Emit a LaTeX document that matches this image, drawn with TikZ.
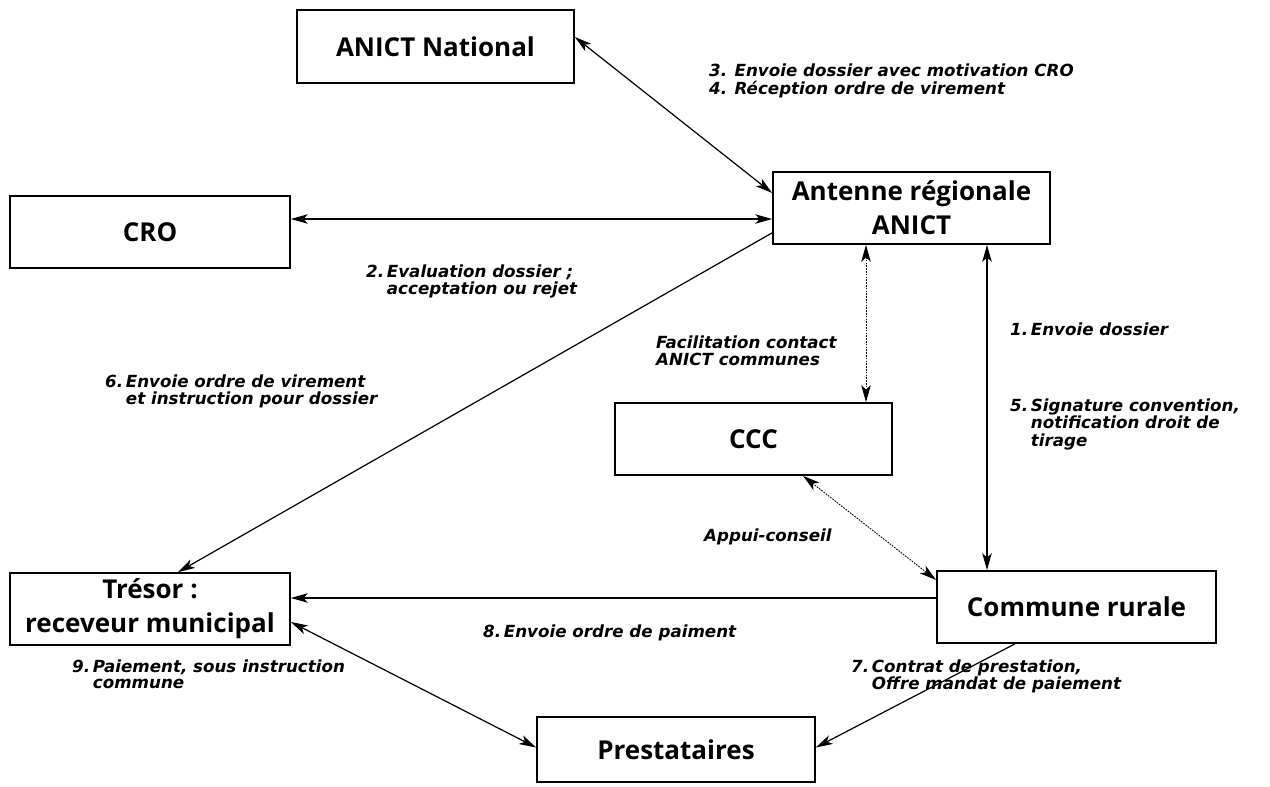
\documentclass[tikz,border=0pt]{standalone}
\usepackage{fontspec}
\setmainfont{Open Sans}
\newfontfamily\lblfamily{DejaVu Sans}
\usetikzlibrary{arrows.meta,calc}
\tikzset{
  tip/.tip={Stealth[length=17pt,width=9.5pt,inset=4.5pt]},
  box/.style={draw, line width=1.7pt, minimum width=278pt, minimum height=72pt, inner sep=0pt, font=\fontsize{26}{30}\selectfont\bfseries, align=center},
  conn/.style={line width=1.2pt, -tip},
  biconn/.style={line width=1.2pt, tip-tip},
  dotconn/.style={biconn, line width=0.9pt, dash pattern=on 1.6pt off 1.2pt},
  lbl/.style={inner sep=0pt, anchor=base west, font=\lblfamily\fontsize{16.7}{16.5}\selectfont\bfseries\itshape}
}
\newcommand{\nl}[3]{\begin{tabular}[t]{@{}l@{\,}l@{}}#1&#2\\&#3\end{tabular}}
\newcommand{\tl}[2]{\begin{tabular}[t]{@{}l@{}}#1\\#2\end{tabular}}
\begin{document}
\begin{tikzpicture}[x=1pt,y=-1pt]
\useasboundingbox (0,0) rectangle (1270,787);
% boxes
\node[box, minimum width=277pt, minimum height=73pt] (nat) at (435.5,46.5) {ANICT National};
\node[box, minimum width=280pt] (cro) at (150,232) {CRO};
\node[box, minimum width=277pt] (ant) at (911.5,208) {Antenne régionale\\[4pt]ANICT};
\node[box, minimum width=277pt] (ccc) at (753.5,439) {CCC};
\node[box, minimum width=280pt] (tre) at (150,609) {Trésor :\\[4pt]receveur municipal};
\node[box, minimum width=279pt] (com) at (1076.5,607) {Commune rurale};
\node[box, minimum width=278pt, minimum height=65pt] (pre) at (676,749.5) {Prestataires};
% connectors
\draw[biconn] ([yshift=9.5pt]nat.east) -- ([yshift=15pt]ant.west);
\draw[biconn] ([yshift=13pt]cro.east) -- ([yshift=13pt]cro.east -| ant.west);
\draw[conn] ([yshift=12pt]ant.south west) -- ([xshift=28pt]tre.north);
\draw[dotconn] ([xshift=-45.5pt]ant.south) -- ([xshift=-45.5pt]ant.south |- ccc.north);
\draw[biconn] ([xshift=75.5pt]ant.south) -- ([xshift=75.5pt]ant.south |- com.north);
\draw[dotconn] ([xshift=49.5pt]ccc.south) -- ([yshift=27pt]com.west);
\draw[conn] ([yshift=9pt]com.west) -- ([yshift=9pt]com.west -| tre.east);
\draw[conn] ([xshift=-61.5pt]com.south) -- ([yshift=2pt]pre.east);
\draw[biconn] ([yshift=-13pt]tre.east) -- ([yshift=2pt]pre.west);
% labels
\node[lbl] (l34) at (709,76) {\tl{3.\hspace{0.45em}Envoie dossier avec motivation CRO}{4.\hspace{0.45em}Réception ordre de virement}};
\node[lbl] (l2) at (366,277) {\nl{2.}{Evaluation dossier ;}{acceptation ou rejet}};
\node[lbl] (l1) at (1010,335) {1.\,Envoie dossier};
\node[lbl] (lf) at (656,348) {\tl{Facilitation contact}{ANICT communes}};
\node[lbl] (l6) at (105,387) {\nl{6.}{Envoie ordre de virement}{et instruction pour dossier}};
\node[lbl] (l5) at (1010,411) {\begin{tabular}[t]{@{}l@{\,}l@{}}5.&Signature convention,\\&notification droit de\\&tirage\end{tabular}};
\node[lbl] (la) at (704,541) {Appui-conseil};
\node[lbl] (l8) at (483,637) {8.\,Envoie ordre de paiment};
\node[lbl] (l9) at (72,672) {\nl{9.}{Paiement, sous instruction}{commune}};
\node[lbl] (l7) at (851,672) {\nl{7.}{Contrat de prestation,}{Offre mandat de paiement}};
\end{tikzpicture}
\end{document}
